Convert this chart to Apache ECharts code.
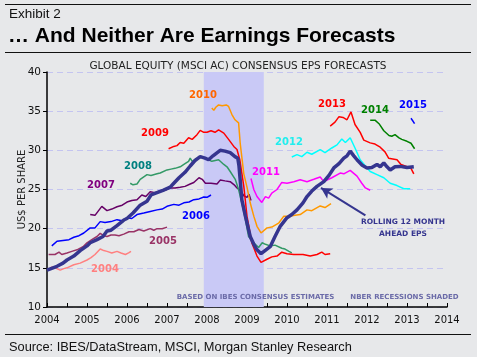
<!DOCTYPE html>
<html><head><meta charset="utf-8">
<script src="https://cdn.jsdelivr.net/npm/echarts@6/dist/echarts.min.js"></script>
<style>html,body{margin:0;padding:0;background:#e7e8ea}#c{width:477px;height:357px}</style>
</head><body><div id="c"></div>
<script>
// ---- data (x = decimal year, y = US$ per share) ----
const xTicks = [2004, 2005, 2006, 2007, 2008, 2009, 2010, 2011, 2012, 2013, 2014];
const yTicks = [10, 15, 20, 25, 30, 35, 40];
const recession = [2007.92, 2009.42];

const fy2004 = [[2004.04,14.8],[2004.12,15.1],[2004.2,15.0],[2004.33,14.7],[2004.42,14.9],[2004.5,15.0],[2004.67,15.4],[2004.83,15.6],[2005.0,16.0],[2005.1,16.3],[2005.2,16.7],[2005.33,17.4],[2005.42,17.2],[2005.5,17.1],[2005.62,16.9],[2005.75,17.1],[2005.85,16.9],[2005.96,16.7],[2006.04,16.9],[2006.1,17.1]];
const fy2005 = [[2004.04,16.7],[2004.2,16.7],[2004.3,17.0],[2004.37,16.7],[2004.5,16.9],[2004.62,17.1],[2004.75,17.3],[2004.9,17.7],[2005.0,18.2],[2005.12,18.6],[2005.25,19.0],[2005.33,19.4],[2005.42,19.1],[2005.5,19.0],[2005.6,19.2],[2005.7,19.2],[2005.8,19.1],[2005.92,19.3],[2006.05,19.6],[2006.17,19.6],[2006.3,19.9],[2006.42,19.7],[2006.58,20.0],[2006.67,19.8],[2006.75,20.0],[2006.88,20.0],[2007.0,20.2]];
const fy2006 = [[2004.12,17.8],[2004.25,18.4],[2004.4,18.5],[2004.55,18.6],[2004.67,18.9],[2004.8,19.1],[2004.92,19.45],[2005.08,20.1],[2005.2,20.1],[2005.33,20.9],[2005.45,20.8],[2005.6,20.9],[2005.75,21.15],[2005.88,21.0],[2006.0,21.4],[2006.12,21.3],[2006.25,21.8],[2006.42,22.0],[2006.58,22.2],[2006.75,22.4],[2006.88,22.5],[2007.0,22.85],[2007.17,23.1],[2007.3,23.0],[2007.42,23.3],[2007.55,23.4],[2007.67,23.7],[2007.8,23.8],[2007.92,24.05],[2008.0,24.0],[2008.1,24.3]];
const fy2007 = [[2005.08,21.8],[2005.2,21.7],[2005.37,22.85],[2005.5,22.3],[2005.62,22.5],[2005.75,22.8],[2005.88,23.0],[2006.0,23.4],[2006.12,23.6],[2006.25,23.7],[2006.37,24.3],[2006.47,24.1],[2006.58,24.7],[2006.7,24.6],[2006.83,24.85],[2006.95,24.9],[2007.08,25.2],[2007.2,25.2],[2007.33,25.3],[2007.45,25.4],[2007.58,25.7],[2007.67,25.9],[2007.8,26.5],[2007.88,26.3],[2007.96,25.8],[2008.1,25.8],[2008.25,25.7],[2008.33,26.2],[2008.45,26.1],[2008.58,26.0],[2008.68,25.6],[2008.75,25.2],[2008.83,24.9],[2008.92,24.2],[2009.0,24.0],[2009.05,24.4],[2009.1,23.6]];
const fy2008 = [[2006.08,25.8],[2006.15,25.6],[2006.25,25.7],[2006.33,26.3],[2006.5,26.9],[2006.6,26.8],[2006.75,27.0],[2006.83,27.1],[2007.0,27.5],[2007.1,27.6],[2007.2,27.7],[2007.33,27.9],[2007.45,28.3],[2007.54,28.6],[2007.58,29.0],[2007.63,28.6],[2007.75,28.9],[2007.83,29.2],[2007.95,29.0],[2008.04,28.8],[2008.12,28.6],[2008.29,28.8],[2008.42,28.2],[2008.5,27.9],[2008.58,27.3],[2008.71,26.25],[2008.79,25.0],[2008.87,23.3],[2008.96,21.15],[2009.04,19.0],[2009.17,18.2],[2009.29,17.6],[2009.38,18.2],[2009.46,18.0],[2009.58,17.8],[2009.7,17.9],[2009.87,17.5],[2009.95,17.4],[2010.05,17.1],[2010.12,16.9]];
const fy2009 = [[2007.04,30.2],[2007.17,30.5],[2007.25,30.6],[2007.33,31.0],[2007.42,30.9],[2007.54,31.6],[2007.63,31.4],[2007.75,32.0],[2007.83,32.55],[2007.92,32.3],[2008.0,32.3],[2008.1,32.5],[2008.2,32.3],[2008.29,32.6],[2008.42,32.2],[2008.54,31.4],[2008.67,30.5],[2008.75,30.1],[2008.82,28.8],[2008.92,25.4],[2009.0,21.6],[2009.12,18.2],[2009.25,16.5],[2009.35,15.7],[2009.5,16.1],[2009.62,16.4],[2009.75,16.5],[2009.87,17.0],[2010.0,16.8],[2010.17,16.7],[2010.4,16.7],[2010.58,16.5],[2010.75,16.7],[2010.87,17.0],[2010.95,16.7],[2011.08,16.8]];
const fy2010 = [[2008.12,35.4],[2008.17,35.1],[2008.22,35.5],[2008.29,35.8],[2008.38,35.7],[2008.48,35.8],[2008.54,35.6],[2008.62,34.6],[2008.7,33.9],[2008.79,33.5],[2008.83,30.9],[2008.92,27.0],[2009.0,25.3],[2009.08,23.3],[2009.17,21.6],[2009.25,20.3],[2009.35,19.45],[2009.5,20.1],[2009.62,20.2],[2009.79,20.7],[2009.92,21.6],[2010.05,21.6],[2010.2,21.7],[2010.33,21.8],[2010.5,22.4],[2010.62,22.3],[2010.83,22.9],[2010.95,22.7],[2011.1,23.2]];
const fy2011 = [[2009.1,26.4],[2009.17,25.0],[2009.25,24.1],[2009.37,23.35],[2009.46,24.1],[2009.54,23.9],[2009.62,24.55],[2009.75,25.0],[2009.87,25.9],[2010.0,25.8],[2010.17,26.0],[2010.33,26.25],[2010.5,26.0],[2010.67,26.3],[2010.83,26.6],[2010.92,26.0],[2011.12,26.5],[2011.33,27.1],[2011.42,27.0],[2011.58,27.45],[2011.75,26.7],[2011.87,25.8],[2011.96,25.2],[2012.08,24.9]];
const fy2012 = [[2010.12,29.15],[2010.25,29.45],[2010.37,29.2],[2010.5,29.75],[2010.62,29.5],[2010.83,30.1],[2010.95,29.7],[2011.12,30.3],[2011.25,30.7],[2011.37,31.45],[2011.46,31.0],[2011.58,31.6],[2011.7,30.3],[2011.83,28.8],[2011.96,28.0],[2012.08,27.3],[2012.25,26.9],[2012.42,26.5],[2012.58,25.8],[2012.75,25.5],[2012.92,25.1],[2013.08,25.1]];
const fy2013 = [[2011.08,33.1],[2011.2,33.6],[2011.3,34.3],[2011.4,34.2],[2011.5,33.9],[2011.6,34.9],[2011.7,33.3],[2011.83,32.3],[2011.92,31.3],[2012.08,30.95],[2012.2,30.8],[2012.33,30.4],[2012.45,29.8],[2012.54,29.0],[2012.75,28.8],[2012.85,28.2],[2013.0,27.9],[2013.1,27.7],[2013.17,27.0]];
const fy2014 = [[2012.08,33.85],[2012.2,33.85],[2012.3,33.4],[2012.42,32.5],[2012.55,31.9],[2012.62,31.8],[2012.7,32.0],[2012.8,31.6],[2012.87,31.4],[2013.0,31.15],[2013.1,30.9],[2013.19,30.2]];
const fy2015 = [[2013.1,34.1],[2013.19,33.4]];
const rolling = [[2004.0,14.7],[2004.1,14.9],[2004.25,15.2],[2004.4,15.6],[2004.5,16.0],[2004.67,16.5],[2004.83,17.2],[2005.0,17.8],[2005.08,18.2],[2005.25,18.6],[2005.4,19.0],[2005.5,19.7],[2005.6,19.8],[2005.75,20.4],[2005.92,21.1],[2006.0,21.3],[2006.15,22.0],[2006.33,23.0],[2006.5,23.5],[2006.6,24.3],[2006.75,24.6],[2006.9,24.9],[2007.08,25.3],[2007.17,25.8],[2007.3,26.5],[2007.45,27.2],[2007.58,28.0],[2007.7,28.7],[2007.83,29.2],[2007.95,29.0],[2008.04,28.8],[2008.15,29.3],[2008.33,30.0],[2008.45,29.9],[2008.58,29.7],[2008.7,29.2],[2008.77,29.0],[2008.8,28.0],[2008.85,25.0],[2008.87,23.7],[2008.96,21.6],[2009.08,19.0],[2009.17,18.0],[2009.25,17.3],[2009.35,16.8],[2009.45,17.2],[2009.58,17.7],[2009.7,19.0],[2009.83,20.3],[2010.0,21.4],[2010.12,21.8],[2010.25,22.4],[2010.4,23.3],[2010.5,24.1],[2010.62,24.8],[2010.75,25.4],[2010.92,26.0],[2011.05,26.8],[2011.17,27.75],[2011.3,28.3],[2011.42,29.0],[2011.5,29.3],[2011.58,29.9],[2011.67,29.3],[2011.75,28.8],[2011.88,28.1],[2012.0,27.75],[2012.12,27.8],[2012.25,28.2],[2012.33,27.9],[2012.42,28.4],[2012.5,27.9],[2012.58,27.5],[2012.7,27.9],[2012.83,27.95],[2013.0,27.8],[2013.17,27.9]];
const arrowFrom = [2011.96, 21.7];
const arrowTo = [2010.85, 25.2];

// ---- styling ----
const lines = [
  {name:'2004', data:fy2004, color:'#ff8080'},
  {name:'2005', data:fy2005, color:'#993366'},
  {name:'2006', data:fy2006, color:'#0000ff'},
  {name:'2007', data:fy2007, color:'#660066'},
  {name:'2008', data:fy2008, color:'#339966'},
  {name:'2009', data:fy2009, color:'#ff0000'},
  {name:'2010', data:fy2010, color:'#ff9900'},
  {name:'2011', data:fy2011, color:'#ff00ff'},
  {name:'2012', data:fy2012, color:'#00ffff'},
  {name:'2013', data:fy2013, color:'#ff0000'},
  {name:'2014', data:fy2014, color:'#008000'},
  {name:'2015', data:fy2015, color:'#0000ff'}
];
const labels = [
  {t:'2004', x:105, y:269, c:'#ff8080'},
  {t:'2005', x:163, y:241.5, c:'#993366'},
  {t:'2006', x:196, y:216, c:'#0000ff'},
  {t:'2007', x:101, y:185.5, c:'#800080'},
  {t:'2008', x:138, y:166, c:'#008080'},
  {t:'2009', x:155, y:133, c:'#ff0000'},
  {t:'2010', x:203, y:95, c:'#ff6600'},
  {t:'2011', x:266, y:172, c:'#ff00ff'},
  {t:'2012', x:289, y:142.5, c:'#22eeee'},
  {t:'2013', x:332, y:104, c:'#ff0000'},
  {t:'2014', x:375, y:110, c:'#008000'},
  {t:'2015', x:413, y:105, c:'#0000ff'}
];

const series = lines.map((l, i) => {
  const s = {
    name: l.name, type: 'line', data: l.data, symbol: 'none',
    lineStyle: {color: l.color, width: 1.5}, z: 2
  };
  if (i === 0) {
    s.markArea = {silent: true, itemStyle: {color: '#c9c9f6'},
      data: [[{xAxis: recession[0]}, {xAxis: recession[1]}]]};
  }
  return s;
});
series.push({
  name: 'Rolling', type: 'line', data: rolling, symbol: 'none',
  lineStyle: {color: '#35358f', width: 3.5}, z: 3,
  markLine: {silent: true, symbol: ['none', 'arrow'], symbolSize: [9, 11],
    lineStyle: {color: '#35358f', width: 2, type: 'solid'}, label: {show: false},
    data: [[{coord: arrowFrom}, {coord: arrowTo}]]}
});

const graphic = [
  {type:'line', shape:{x1:5,y1:4.5,x2:471,y2:4.5}, style:{stroke:'#111',lineWidth:1}},
  {type:'line', shape:{x1:5,y1:52.5,x2:471,y2:52.5}, style:{stroke:'#111',lineWidth:1}},
  {type:'line', shape:{x1:5,y1:334.5,x2:471,y2:334.5}, style:{stroke:'#111',lineWidth:1}},
  {type:'text', style:{x:9, y:14.5, text:'Exhibit 2', font:'13.5px "Liberation Sans"', fill:'#111', verticalAlign:'middle'}},
  {type:'text', style:{x:8, y:36, text:'… And Neither Are Earnings Forecasts', font:'bold 21px "Liberation Sans"', fill:'#000', verticalAlign:'middle'}},
  {type:'text', style:{x:9, y:347, text:'Source: IBES/DataStream, MSCI, Morgan Stanley Research', font:'12.8px "Liberation Sans"', fill:'#111', verticalAlign:'middle'}},
  {type:'text', style:{x:238, y:66, text:'GLOBAL EQUITY (MSCI AC) CONSENSUS EPS FORECASTS', font:'10.5px "DejaVu Sans"', fill:'#222', align:'center', verticalAlign:'middle'}},
  {type:'text', style:{x:255.5, y:297.5, text:'BASED ON IBES CONSENSUS ESTIMATES', font:'bold 7px "DejaVu Sans"', fill:'#6b6ba8', align:'center', verticalAlign:'middle'}},
  {type:'text', style:{x:404.5, y:297.5, text:'NBER RECESSIONS SHADED', font:'bold 7px "DejaVu Sans"', fill:'#6b6ba8', align:'center', verticalAlign:'middle'}},
  {type:'text', style:{x:403, y:222, text:'ROLLING 12 MONTH', font:'bold 7.5px "DejaVu Sans"', fill:'#35358f', align:'center', verticalAlign:'middle'}},
  {type:'text', style:{x:403, y:234, text:'AHEAD EPS', font:'bold 7.5px "DejaVu Sans"', fill:'#35358f', align:'center', verticalAlign:'middle'}}
].concat(labels.map(l => ({type:'text',
  style:{x:l.x, y:l.y, text:l.t, font:'bold 10px "DejaVu Sans"', fill:l.c, align:'center', verticalAlign:'middle'}})))
 .map(g => Object.assign({z: 100}, g));

const chart = echarts.init(document.getElementById('c'));
chart.setOption({
  animation: false,
  backgroundColor: '#e7e8ea',
  grid: {left: 47, right: 30, top: 72, bottom: 50},
  xAxis: {
    type: 'value', min: xTicks[0], max: xTicks[xTicks.length - 1], interval: 0.5,
    axisLine: {lineStyle: {color: '#000', width: 1.5}},
    axisTick: {inside: true, length: 4, lineStyle: {color: '#000', width: 1}},
    axisLabel: {margin: 8, color: '#111', fontFamily: 'DejaVu Sans', fontSize: 10,
      formatter: v => (xTicks.indexOf(v) >= 0 ? String(v) : '')},
    splitLine: {show: false}
  },
  yAxis: {
    type: 'value', min: yTicks[0], max: yTicks[yTicks.length - 1], interval: 5,
    name: 'US$ PER SHARE', nameLocation: 'middle', nameGap: 20, nameMoveOverlap: false,
    nameTextStyle: {color: '#222', fontFamily: 'DejaVu Sans', fontSize: 10},
    axisLine: {show: true, lineStyle: {color: '#000', width: 1.5}},
    axisTick: {show: true, length: 4, lineStyle: {color: '#000'}},
    axisLabel: {margin: 6, color: '#111', fontFamily: 'DejaVu Sans', fontSize: 10.5},
    splitLine: {show: true, lineStyle: {color: '#c4c4f0', type: [6, 4], width: 1}}
  },
  series: series,
  graphic: graphic
});
</script>
</body></html>
